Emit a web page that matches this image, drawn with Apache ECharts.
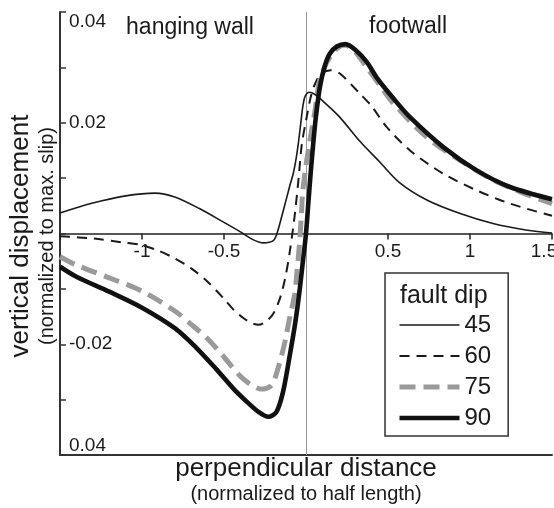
<!DOCTYPE html>
<html>
<head>
<meta charset="utf-8">
<script src="https://cdn.jsdelivr.net/npm/echarts@6/dist/echarts.min.js"></script>
<style>
  html, body { margin: 0; padding: 0; background: #fff; }
  #chart { width: 554px; height: 508px; }
</style>
</head>
<body>
<div id="chart"></div>
<script>
// Surface displacement profiles across a fault, one per fault dip (degrees).
const dipNames = ['45', '60', '75', '90'];

const dip45 = [
  [-1.5, 0.0037], [-1.3, 0.0055], [-1.1, 0.0068], [-0.92, 0.0073], [-0.8, 0.0066],
  [-0.65, 0.0045], [-0.5, 0.0020], [-0.4, 0.0003], [-0.33, -0.0010], [-0.26, -0.0017],
  [-0.2, -0.0013], [-0.175, 0.0002], [-0.146, 0.0033], [-0.12, 0.0062], [-0.098, 0.0087],
  [-0.078, 0.0108], [-0.061, 0.0134], [-0.048, 0.0160], [-0.037, 0.0186], [-0.027, 0.0212],
  [-0.018, 0.0232], [-0.005, 0.0248], [0.02, 0.0255], [0.05, 0.0252], [0.1, 0.0240],
  [0.2, 0.0212], [0.33, 0.0166], [0.45, 0.0129], [0.57, 0.0092], [0.74, 0.0060],
  [0.94, 0.0036], [1.14, 0.0018], [1.35, 0.0006], [1.5, 0.0001]
];

const dip60 = [
  [-1.5, -0.0005], [-1.3, -0.0009], [-1.12, -0.0016], [-1.0, -0.0021], [-0.9, -0.0031],
  [-0.8, -0.0045], [-0.7, -0.0063], [-0.6, -0.0087], [-0.5, -0.0118], [-0.44, -0.0138],
  [-0.38, -0.0153], [-0.33, -0.0162], [-0.29, -0.0165], [-0.24, -0.0158], [-0.2, -0.0145],
  [-0.16, -0.0118], [-0.128, -0.0082], [-0.1, -0.0035], [-0.07, 0.0030], [-0.045, 0.0100],
  [-0.026, 0.0160], [0.004, 0.0210], [0.03, 0.0248], [0.055, 0.0270], [0.09, 0.0288],
  [0.15, 0.0295], [0.21, 0.0288], [0.33, 0.0252], [0.4, 0.0230], [0.49, 0.0193],
  [0.634, 0.0150], [0.837, 0.0108], [1.04, 0.0078], [1.244, 0.0054], [1.5, 0.0032]
];

const dip75 = [
  [-1.5, -0.0042], [-1.4, -0.0057], [-1.2, -0.0080], [-1.0, -0.0104], [-0.8, -0.0140],
  [-0.7, -0.0164], [-0.6, -0.0190], [-0.5, -0.0223], [-0.4, -0.0258], [-0.33, -0.0274],
  [-0.27, -0.0281], [-0.21, -0.0274], [-0.17, -0.0243], [-0.128, -0.0195], [-0.098, -0.0150],
  [-0.069, -0.0110], [-0.055, -0.0069], [-0.04, -0.0020], [-0.029, 0.0030], [-0.02, 0.0075],
  [0.0, 0.0123], [0.024, 0.0168], [0.055, 0.0222], [0.085, 0.0278], [0.146, 0.0319],
  [0.2, 0.0337], [0.24, 0.0340], [0.3, 0.0328], [0.37, 0.0300], [0.45, 0.0268],
  [0.53, 0.0236], [0.736, 0.0174], [0.94, 0.0132], [1.14, 0.0097], [1.325, 0.0073],
  [1.5, 0.0054]
];

const dip90 = [
  [-1.5, -0.0060], [-1.4, -0.0078], [-1.2, -0.0105], [-1.0, -0.0134], [-0.8, -0.0171],
  [-0.67, -0.0206], [-0.55, -0.0244], [-0.44, -0.0281], [-0.36, -0.0304], [-0.29, -0.0322],
  [-0.23, -0.0331], [-0.18, -0.0322], [-0.14, -0.0286], [-0.1, -0.0222], [-0.065, -0.0160],
  [-0.04, -0.0105], [-0.02, -0.0053], [0.0, 0.0], [0.015, 0.0058], [0.03, 0.0115],
  [0.045, 0.0165], [0.06, 0.0210], [0.085, 0.0265], [0.115, 0.0303], [0.146, 0.0325],
  [0.19, 0.0338], [0.24, 0.0342], [0.3, 0.0332], [0.37, 0.0310], [0.43, 0.0282],
  [0.53, 0.0245], [0.634, 0.0210], [0.837, 0.0156], [1.04, 0.0114], [1.244, 0.0084],
  [1.5, 0.0062]
];

// Tick labels keyed by tick value (hundredths for y, halves for x)
const yTickLabels = { '4': '0.04', '2': '0.02', '-2': '-0.02', '-4': '0.04' };
const xTickLabels = { '-2': '-1', '-1': '-0.5', '1': '0.5', '2': '1', '3': '{edge|1.5}' };

const FONT = 'Liberation Sans, Arial, Helvetica, sans-serif';
const INK = '#1a1a1a';

const GRID = { left: 60, right: 2, top: 12, bottom: 53 };
const plotHeight = 508 - GRID.top - GRID.bottom;

// per-dip stroke styles: [colour, width, dash]
const strokes = [
  [INK, 1.6, 'solid'],
  [INK, 2, [10, 7]],
  ['#9a9a9a', 5, [16, 8]],
  ['#111', 4.6, 'solid']
];
const seriesData = [dip45, dip60, dip75, dip90];

const chart = echarts.init(document.getElementById('chart'), null, { renderer: 'canvas' });

const series = dipNames.map((name, i) => ({
  name: name,
  type: 'line',
  data: seriesData[i],
  smooth: 0.3,
  symbol: 'none',
  lineStyle: { color: strokes[i][0], width: strokes[i][1], type: strokes[i][2], cap: 'butt' },
  itemStyle: { color: strokes[i][0] },
  emphasis: { disabled: true },
  z: 3
}));

// thin fault trace at zero distance
series[0].markLine = {
  silent: true,
  symbol: 'none',
  label: { show: false },
  lineStyle: { color: '#999', width: 1, type: 'solid' },
  data: [{ xAxis: 0 }],
  z: 1
};

chart.setOption({
  animation: false,
  backgroundColor: '#fff',
  grid: Object.assign({ outerBoundsMode: 'none', containLabel: false }, GRID),
  xAxis: [
    {
      // distance axis drawn through y = 0
      type: 'value',
      position: 'bottom',
      offset: -plotHeight / 2,
      min: -1.5, max: 1.5, interval: 0.5,
      axisLine: { onZero: false, lineStyle: { color: '#222', width: 1.5 } },
      axisTick: { show: true, inside: false, length: 6, lineStyle: { color: '#222', width: 1.5 } },
      axisLabel: {
        margin: 9,
        hideOverlap: false,
        fontFamily: FONT, fontSize: 19, color: INK,
        formatter: v => xTickLabels[String(Math.round(v * 2))] || '',
        rich: {
          edge: { fontFamily: FONT, fontSize: 19, color: INK, padding: [0, 16, 0, 0] }
        }
      },
      splitLine: { show: false }
    },
    {
      // lower frame edge
      type: 'value',
      position: 'bottom',
      min: -1.5, max: 1.5,
      axisLine: { onZero: false, lineStyle: { color: '#333', width: 2 } },
      axisTick: { show: false },
      axisLabel: { show: false },
      splitLine: { show: false }
    }
  ],
  yAxis: {
    type: 'value',
    min: -0.04, max: 0.04, interval: 0.01,
    axisLine: { show: true, onZero: false, lineStyle: { color: '#333', width: 2 } },
    axisTick: { show: true, inside: true, length: 6, lineStyle: { color: '#333', width: 1.5 } },
    axisLabel: {
      inside: true,
      margin: 9,
      fontFamily: FONT, fontSize: 19, color: INK,
      verticalAlignMinLabel: 'bottom',
      verticalAlignMaxLabel: 'top',
      formatter: v => yTickLabels[String(Math.round(v * 100))] || ''
    },
    splitLine: { show: false }
  },
  legend: {
    data: dipNames.map((name, i) => ({
      name: name,
      itemStyle: { opacity: 0 },
      lineStyle: { color: strokes[i][0], width: strokes[i][1], type: strokes[i][2], opacity: 1 }
    })),
    orient: 'vertical',
    left: 385, top: 273,
    padding: [40, 17, 6, 12],
    itemWidth: 60, itemHeight: 20, itemGap: 7,
    borderColor: '#333', borderWidth: 1.5,
    backgroundColor: '#fff',
    selectedMode: false,
    textStyle: { fontFamily: FONT, fontSize: 24, lineHeight: 24, color: INK }
  },
  graphic: [
    {
      type: 'text', left: 400, top: 284, z: 100,
      style: { text: 'fault dip', font: '25px ' + FONT, fill: INK }
    },
    {
      type: 'text', x: 190, y: 28,
      style: { text: 'hanging wall', font: '23px ' + FONT, fill: INK, align: 'center', verticalAlign: 'middle' }
    },
    {
      type: 'text', x: 408, y: 27,
      style: { text: 'footwall', font: '23px ' + FONT, fill: INK, align: 'center', verticalAlign: 'middle' }
    },
    {
      type: 'text', x: 21, y: 236, rotation: Math.PI / 2,
      style: { text: 'vertical displacement', font: '26px ' + FONT, fill: INK, align: 'center', verticalAlign: 'middle' }
    },
    {
      type: 'text', x: 47, y: 236, rotation: Math.PI / 2,
      style: { text: '(normalized to max. slip)', font: '20px ' + FONT, fill: INK, align: 'center', verticalAlign: 'middle' }
    },
    {
      type: 'text', x: 306, y: 469,
      style: { text: 'perpendicular distance', font: '26px ' + FONT, fill: INK, align: 'center', verticalAlign: 'middle' }
    },
    {
      type: 'text', x: 306, y: 494,
      style: { text: '(normalized to half length)', font: '20px ' + FONT, fill: INK, align: 'center', verticalAlign: 'middle' }
    }
  ],
  series: series
});
</script>
</body>
</html>
